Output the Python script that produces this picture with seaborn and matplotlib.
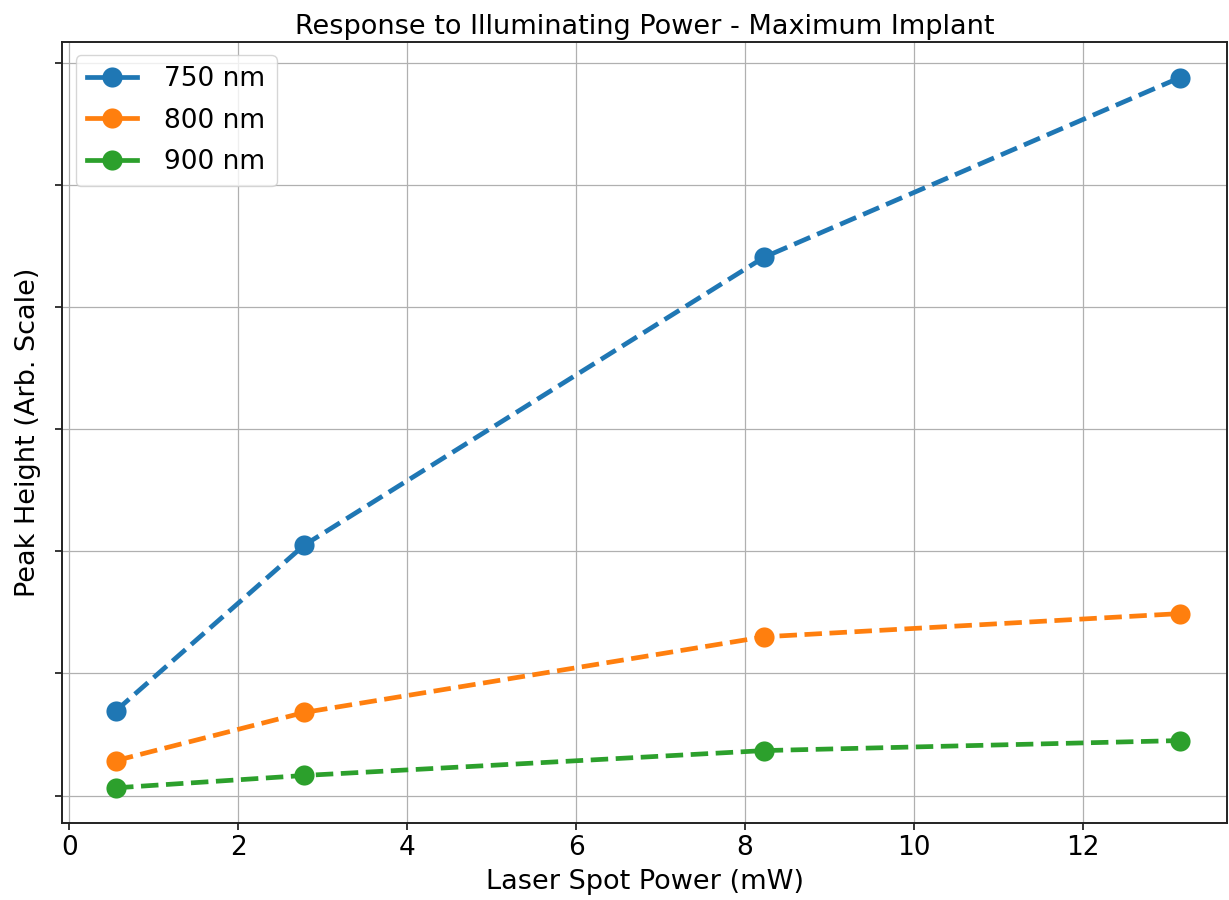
import matplotlib
matplotlib.use("Agg")
import matplotlib.pyplot as plt
import seaborn as sns
import pandas as pd

# Laser spot power (mW) at each measurement
power_mw = [0.553, 2.78, 8.23, 13.15]

# Peak heights (arbitrary scale) for each wavelength
peak_750 = [0.695, 2.05, 4.41, 5.88]
peak_800 = [0.286, 0.68, 1.30, 1.49]
peak_900 = [0.063, 0.164, 0.368, 0.45]

wavelengths = ["750 nm", "800 nm", "900 nm"]
series = [peak_750, peak_800, peak_900]

frames = []
for name, vals in zip(wavelengths, series):
    frames.append(pd.DataFrame({"power": power_mw, "peak": vals, "wavelength": name}))
df = pd.concat(frames, ignore_index=True)

palette = dict(zip(wavelengths, sns.color_palette("tab10", 3)))

fig = plt.figure(figsize=(12.29, 9.0), dpi=100)
ax = fig.add_axes([0.0507, 0.0852, 0.9478, 0.868])

sns.lineplot(data=df, x="power", y="peak", hue="wavelength", palette=palette,
             marker="o", markersize=14.5, markeredgewidth=0, linewidth=3.4,
             dashes=False, ax=ax, sort=False)
for line in ax.get_lines():
    line.set_linestyle("--")

ax.set_xlim(-0.083, 13.71)
ax.grid(True, color="#b0b0b0", linewidth=0.9)
ax.set_axisbelow(True)
ax.tick_params(axis="both", labelsize=19, length=5, width=1.1)
ax.set_yticklabels([])
ax.set_xticks([0, 2, 4, 6, 8, 10, 12])
for s in ax.spines.values():
    s.set_linewidth(1.4)
    s.set_color("#222222")

ax.set_xlabel("Laser Spot Power (mW)", fontsize=19.5, labelpad=6)
ax.set_ylabel("Peak Height (Arb. Scale)", fontsize=19.5, labelpad=7)
ax.set_title("Response to Illuminating Power - Maximum Implant", fontsize=19.5)

handles, labels = ax.get_legend_handles_labels()
for h in handles:
    h.set_linestyle("-")
ax.legend(handles, labels, loc="upper left", fontsize=19, handlelength=1.9,
          handletextpad=1.05, borderpad=0.42, labelspacing=0.58)

fig.savefig("out.png", dpi=100)
